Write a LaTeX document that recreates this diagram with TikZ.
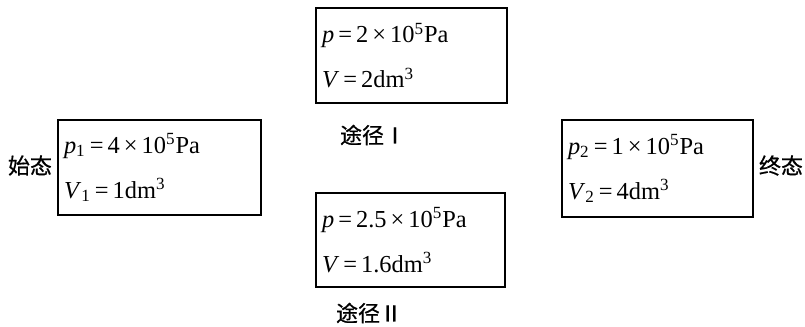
\documentclass[tikz,border=0pt]{standalone}
\usepackage{fontspec}
\setmainfont{Liberation Serif}
\newfontfamily\cjk[FakeBold=0.6]{Noto Sans CJK SC}
\usetikzlibrary{positioning}
\tikzset{
  state/.style={draw, line width=0.6pt, align=left, inner xsep=3pt, inner ysep=0pt,
    font=\fontsize{12.2}{22.5}\selectfont},
  tag/.style={font=\cjk\fontsize{11}{13}\selectfont, inner sep=0pt},
}
\newcommand{\eq}{\,=\,}
\newcommand{\tms}{\,×\,}
\begin{document}
\begin{tikzpicture}[x=0.5pt,y=-0.5pt]
  \useasboundingbox (0,0) rectangle (805,327);
  % states
  \node[state, text width=95.5pt, minimum height=47.5pt] (start) at (159.5,167.5)
    {\textit{p}\textsubscript{1}\eq 4\tms 10\textsuperscript{5}Pa\\ \textit{V}\textsubscript{1}\eq 1dm\textsuperscript{3}};
  \node[state, text width=89.5pt, minimum height=48.5pt] (end) at (657.5,168.5)
    {\textit{p}\textsubscript{2}\eq 1\tms 10\textsuperscript{5}Pa\\ \textit{V}\textsubscript{2}\eq 4dm\textsuperscript{3}};
  % intermediate states
  \node[state, text width=89.5pt, minimum height=47.5pt] (mid1) at (411.5,55.5)
    {\textit{p}\eq 2\tms 10\textsuperscript{5}Pa\\ \textit{V}\eq 2dm\textsuperscript{3}};
  \node[state, text width=88.5pt, minimum height=47pt] (mid2) at (410.5,240)
    {\textit{p}\eq 2.5\tms 10\textsuperscript{5}Pa\\ \textit{V}\eq 1.6dm\textsuperscript{3}};
  % labels
  \node[tag, left=2.5pt of start, yshift=1pt] (startlbl) {始态};
  \node[tag, right=2.5pt of end, yshift=1.5pt] (endlbl) {终态};
  \node[tag] (path1) at (373,135) {途径Ⅰ};
  \node[tag] (path2) at (369,313) {途径Ⅱ};
\end{tikzpicture}
\end{document}
